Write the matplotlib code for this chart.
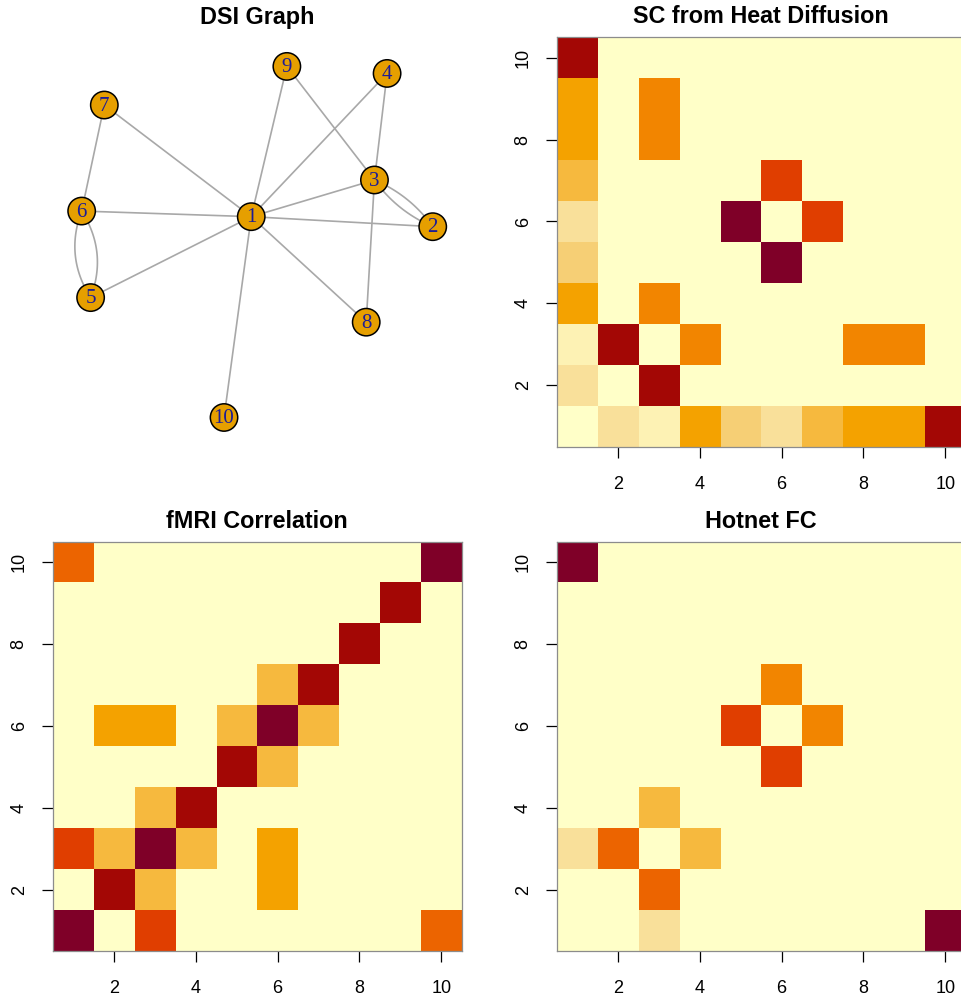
import numpy as np
import matplotlib
matplotlib.use("Agg")
import matplotlib.pyplot as plt
from matplotlib.colors import ListedColormap
from matplotlib.patches import Circle

plt.rcParams['font.family'] = ['Liberation Sans', 'DejaVu Sans']

# 12-step yellow-orange-red palette, light to dark (level 0 = lightest)
palette = ["#FFFFC8", "#FDF2B4", "#F9E09A", "#F6CF75", "#F6B93E", "#F4A200",
           "#F28500", "#EC6400", "#E03E00", "#C42700", "#A30705", "#7F0028"]

# node layout (scaled to [-1, 1]) for the DSI graph
node_ids = [1, 2, 3, 4, 5, 6, 7, 8, 9, 10]
node_x = [-0.034, 1.0, 0.668, 0.740, -0.949, -1.0, -0.871, 0.621, 0.169, -0.189]
node_y = [0.144, 0.087, 0.353, 0.960, -0.317, 0.176, 0.780, -0.457, 1.0, -1.0]

# straight edges and doubled (curved) edges
edges = [(1, 7), (1, 9), (1, 4), (1, 3), (1, 6), (1, 2), (1, 5), (1, 8), (1, 10),
         (9, 3), (4, 3), (3, 8), (7, 6)]
multi_edges = [(6, 5), (3, 2)]
multi_bend = {(6, 5): 0.25, (3, 2): 0.14}

# colour levels per cell, rows are y = 1..10 (bottom to top), columns x = 1..10
sc_heat = [
    [0, 2, 1, 5, 3, 2, 4, 5, 5, 10],
    [2, 0, 10, 0, 0, 0, 0, 0, 0, 0],
    [1, 10, 0, 6, 0, 0, 0, 6, 6, 0],
    [5, 0, 6, 0, 0, 0, 0, 0, 0, 0],
    [3, 0, 0, 0, 0, 11, 0, 0, 0, 0],
    [2, 0, 0, 0, 11, 0, 8, 0, 0, 0],
    [4, 0, 0, 0, 0, 8, 0, 0, 0, 0],
    [5, 0, 6, 0, 0, 0, 0, 0, 0, 0],
    [5, 0, 6, 0, 0, 0, 0, 0, 0, 0],
    [10, 0, 0, 0, 0, 0, 0, 0, 0, 0],
]

fmri_corr = [
    [11, 0, 8, 0, 0, 0, 0, 0, 0, 7],
    [0, 10, 4, 0, 0, 5, 0, 0, 0, 0],
    [8, 4, 11, 4, 0, 5, 0, 0, 0, 0],
    [0, 0, 4, 10, 0, 0, 0, 0, 0, 0],
    [0, 0, 0, 0, 10, 4, 0, 0, 0, 0],
    [0, 5, 5, 0, 4, 11, 4, 0, 0, 0],
    [0, 0, 0, 0, 0, 4, 10, 0, 0, 0],
    [0, 0, 0, 0, 0, 0, 0, 10, 0, 0],
    [0, 0, 0, 0, 0, 0, 0, 0, 10, 0],
    [7, 0, 0, 0, 0, 0, 0, 0, 0, 11],
]

hotnet_fc = [
    [0, 0, 2, 0, 0, 0, 0, 0, 0, 11],
    [0, 0, 7, 0, 0, 0, 0, 0, 0, 0],
    [2, 7, 0, 4, 0, 0, 0, 0, 0, 0],
    [0, 0, 4, 0, 0, 0, 0, 0, 0, 0],
    [0, 0, 0, 0, 0, 8, 0, 0, 0, 0],
    [0, 0, 0, 0, 8, 0, 6, 0, 0, 0],
    [0, 0, 0, 0, 0, 6, 0, 0, 0, 0],
    [0, 0, 0, 0, 0, 0, 0, 0, 0, 0],
    [0, 0, 0, 0, 0, 0, 0, 0, 0, 0],
    [11, 0, 0, 0, 0, 0, 0, 0, 0, 0],
]

cmap = ListedColormap(palette)
edge_col = "#A8A8A8"
title_kw = dict(fontsize=16.8, fontweight="bold", pad=10)


def style_axis(ax):
    for s in ax.spines.values():
        s.set_color("#8C8C8C")
        s.set_linewidth(0.9)
    ax.set_xticks([2, 4, 6, 8, 10])
    ax.set_yticks([2, 4, 6, 8, 10])
    ax.tick_params(length=8, width=0.9, color="black", labelsize=13)
    ax.tick_params(axis="x", pad=13)
    ax.tick_params(axis="y", pad=10)
    for lab in ax.get_yticklabels():
        lab.set_rotation(90)
        lab.set_va("center")


def draw_heat(ax, levels, title):
    ax.imshow(np.array(levels), origin="lower", cmap=cmap, vmin=-0.5, vmax=11.5,
              extent=(0.5, 10.5, 0.5, 10.5), interpolation="nearest", aspect="auto")
    ax.set_xlim(0.5, 10.5)
    ax.set_ylim(0.5, 10.5)
    style_axis(ax)
    ax.set_title(title, **title_kw)


def curve(p, q, rad, n=40):
    p, q = np.asarray(p), np.asarray(q)
    d = q - p
    ctrl = (p + q) / 2 + rad * np.array([-d[1], d[0]])
    t = np.linspace(0, 1, n)[:, None]
    pts = (1 - t) ** 2 * p + 2 * (1 - t) * t * ctrl + t ** 2 * q
    return pts[:, 0], pts[:, 1]


def draw_graph(ax):
    pos = {k: (x, y) for k, x, y in zip(node_ids, node_x, node_y)}
    for a, b in edges:
        ax.plot([pos[a][0], pos[b][0]], [pos[a][1], pos[b][1]],
                color=edge_col, lw=1.2, zorder=1)
    for a, b in multi_edges:
        bend = multi_bend[(a, b)]
        for rad in (bend, -bend):
            cx, cy = curve(pos[a], pos[b], rad)
            ax.plot(cx, cy, color=edge_col, lw=1.2, zorder=1)
    for k in node_ids:
        ax.add_patch(Circle(pos[k], 0.078, facecolor="#E69F00",
                            edgecolor="black", lw=1.1, zorder=2))
        ax.text(pos[k][0], pos[k][1] - 0.006, str(k), ha="center", va="center",
                fontsize=15, color="#1C1C96", zorder=3,
                family=["Liberation Serif", "DejaVu Serif"])
    ax.set_xlim(-1.165, 1.165)
    ax.set_ylim(-1.165, 1.165)
    ax.set_aspect("equal")
    ax.axis("off")
    ax.set_title("DSI Graph", **title_kw)


fig = plt.figure(figsize=(9.62, 10), dpi=100)
w, h = 409.0 / 962, 409.5 / 1000
ax_graph = fig.add_axes([52.7 / 962, 1 - 446.7 / 1000, w, h])
ax_sc = fig.add_axes([556.7 / 962, 1 - 446.7 / 1000, w, h])
ax_fmri = fig.add_axes([52.7 / 962, 1 - 951 / 1000, w, h])
ax_hot = fig.add_axes([556.7 / 962, 1 - 951 / 1000, w, h])

draw_graph(ax_graph)
draw_heat(ax_sc, sc_heat, "SC from Heat Diffusion")
draw_heat(ax_fmri, fmri_corr, "fMRI Correlation")
draw_heat(ax_hot, hotnet_fc, "Hotnet FC")

fig.savefig("out.png", dpi=100)
